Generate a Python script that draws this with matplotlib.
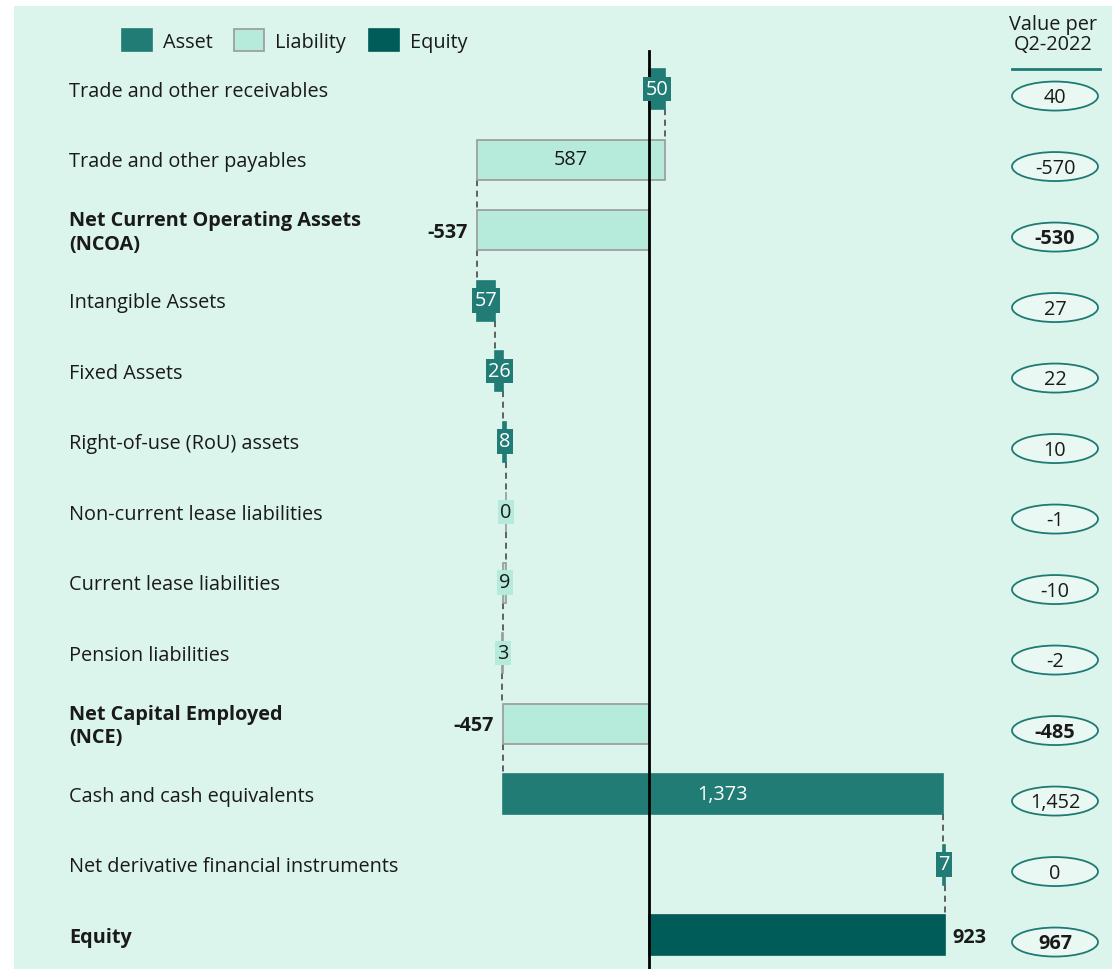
import matplotlib
matplotlib.use("Agg")
import matplotlib.pyplot as plt
from matplotlib.patches import Rectangle, Ellipse
from matplotlib.transforms import blended_transform_factory

plt.rcParams['font.family'] = ['Open Sans', 'DejaVu Sans']

categories = [
    "Trade and other receivables",
    "Trade and other payables",
    "Net Current Operating Assets\n(NCOA)",
    "Intangible Assets",
    "Fixed Assets",
    "Right-of-use (RoU) assets",
    "Non-current lease liabilities",
    "Current lease liabilities",
    "Pension liabilities",
    "Net Capital Employed\n(NCE)",
    "Cash and cash equivalents",
    "Net derivative financial instruments",
    "Equity",
]
values = [50, -587, -537, 57, 26, 8, 0, -9, -3, -457, 1373, 7, 923]
kinds = ["asset", "liability", "total", "asset", "asset", "asset", "liability",
         "liability", "liability", "total", "asset", "asset", "equity"]
value_labels = ["50", "587", "-537", "57", "26", "8", "0", "9", "3", "-457",
                "1,373", "7", "923"]
q2_2022 = ["40", "-570", "-530", "27", "22", "10", "-1", "-10", "-2", "-485",
           "1,452", "0", "967"]

BG = "#dbf4ec"
ASSET = "#217c76"
LIAB = "#b6ebdc"
EQUITY = "#005c59"
TXT = "#1a1a1a"
FS = 14.3

W, H = 1112, 978
fig = plt.figure(figsize=(W / 100, H / 100), dpi=100)
fig.patch.set_facecolor("white")

left_px, right_px, top_px, bot_px = 14, 1112, 7, 970
ax = fig.add_axes([left_px / W, 1 - bot_px / H, (right_px - left_px) / W, (bot_px - top_px) / H])
ax.set_facecolor(BG)
scale = 0.3205  # px per unit
zero_px = 649
row0, rowstep = 90, 70.5
ax.set_xlim((left_px - zero_px) / scale, (right_px - zero_px) / scale)
ax.set_ylim((bot_px - row0) / rowstep, (top_px - row0) / rowstep)
ax.set_xticks([])
ax.set_yticks([])
for sp in ax.spines.values():
    sp.set_visible(False)

dy = 2 / rowstep  # small text baseline nudge
bar_h = 40 / rowstep
n = len(categories)
cum = 0
ends = []
starts = []
for i in range(n):
    v = values[i]
    k = kinds[i]
    if k in ("total", "equity"):
        s, e = 0, v
        cum = v
    else:
        s, e = cum, cum + v
        cum = e
    starts.append(s)
    ends.append(e)

colors = {"asset": ASSET, "liability": LIAB, "total": LIAB, "equity": EQUITY}
for i in range(n):
    k = kinds[i]
    s, e = starts[i], ends[i]
    lo, w = min(s, e), abs(e - s)
    fc = colors[k]
    ec = "#9a9a9a" if fc == LIAB else fc
    ax.add_patch(Rectangle((lo, i - bar_h / 2), w, bar_h, facecolor=fc, edgecolor=ec,
                           lw=1.2, zorder=3))
    if k in ("asset", "liability"):
        tc = "white" if k == "asset" else TXT
        ax.text((s + e) / 2, i, value_labels[i], ha="center", va="center", fontsize=FS,
                color=tc, zorder=5,
                bbox=dict(boxstyle="square,pad=0.12", facecolor=fc, edgecolor="none"))
    elif k == "total":
        ax.text(lo - 9 / scale, i + dy, value_labels[i], ha="right", va="center", fontsize=FS,
                fontweight="bold", color=TXT, zorder=5)
    else:
        ax.text(lo + w + 8 / scale, i + dy, value_labels[i], ha="left", va="center", fontsize=FS,
                fontweight="bold", color=TXT, zorder=5)

# connectors
for i in range(n - 1):
    x = ends[i]
    ax.plot([x, x], [i + bar_h / 2, i + 1 - bar_h / 2], ls=(0, (4, 3)), color="#3a3a3a",
            lw=1.1, zorder=2)

# zero line
ax.plot([0, 0], [(52 - row0) / rowstep, (970 - row0) / rowstep], color="black", lw=2, zorder=4)

# category labels
tr = blended_transform_factory(ax.transAxes, ax.transData)
lx = (69 - left_px) / (right_px - left_px)
for i, c in enumerate(categories):
    bold = kinds[i] in ("total", "equity")
    ax.text(lx, i + dy, c, transform=tr, ha="left", va="center", fontsize=FS,
            fontweight="bold" if bold else "normal", color=TXT, linespacing=1.22)

# right column
cx = (1055 - zero_px) / scale
ew, eh = 86 / scale, 29 / rowstep
for i, q in enumerate(q2_2022):
    bold = kinds[i] in ("total", "equity")
    ax.add_patch(Ellipse((cx, i + 0.1), ew, eh, facecolor="#eaf8f3",
                         edgecolor="#1f7a73", lw=1.3, zorder=3))
    ax.text(cx, i + 0.1 + dy / 2, q, ha="center", va="center", fontsize=FS,
            fontweight="bold" if bold else "normal", color=TXT, zorder=4)

ax.text(cx - 2 / scale, (35 - row0) / rowstep, "Value per\nQ2-2022", ha="center", va="center",
        fontsize=FS, color=TXT, linespacing=1.0)
ax.plot([(1012 - zero_px) / scale, (1100 - zero_px) / scale], [(70 - row0) / rowstep] * 2,
        color="#1f7a73", lw=2)

# legend
legend_items = [("Asset", ASSET, 122), ("Liability", LIAB, 234), ("Equity", EQUITY, 369)]
ly = (41 - row0) / rowstep
for name, col, px in legend_items:
    ec = "#9a9a9a" if col == LIAB else col
    ax.add_patch(Rectangle(((px - zero_px) / scale, ly - 11 / rowstep), 30 / scale, 22 / rowstep,
                           facecolor=col, edgecolor=ec, lw=1.2))
    ax.text((px + 41 - zero_px) / scale, ly + dy, name, ha="left", va="center", fontsize=FS,
            color=TXT)

fig.savefig("out.png", dpi=100, facecolor="white")
